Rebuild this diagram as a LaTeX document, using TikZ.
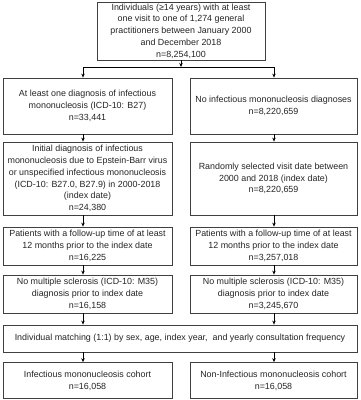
\documentclass[tikz,border=0pt]{standalone}
\usepackage{fontspec}
\setmainfont{Liberation Sans}
\usetikzlibrary{arrows.meta}
\begin{document}
\begin{tikzpicture}[x=1pt,y=-1pt,
  box/.style={draw=black!75,line width=0.8pt,rectangle,inner sep=0pt,align=center,text=black!85,font=\fontsize{8.9}{11.7}\selectfont},
  arr/.style={-{Stealth[length=4pt,width=3.5pt]},line width=0.7pt,black},
  ln/.style={line width=0.7pt,black}]
\useasboundingbox[fill=white] (0,0) rectangle (360,400);
\coordinate (lx) at (83,0);
\coordinate (rx) at (274,0);
\coordinate (sp) at (0,67);
\node[box,minimum width=168pt,minimum height=58pt] (top) at (181,31) {Individuals (≥14 years) with at least\\one visit to one of 1,274 general\\practitioners between January 2000\\and December 2018\\n=8,254,100};
\node[box,minimum width=169pt,minimum height=56pt] (L2) at (87.5,106) {At least one diagnosis of infectious\\mononucleosis (ICD-10: B27)\\n=33,441};
\node[box,minimum width=167pt,minimum height=56pt] (R2) at (273.5,106) {No infectious mononucleosis diagnoses\\n=8,220,659};
\node[box,minimum width=169pt,minimum height=73pt] (L3) at (87.5,178.5) {Initial diagnosis of infectious\\mononucleosis due to Epstein-Barr virus\\or unspecified infectious mononucleosis\\(ICD-10: B27.0, B27.9) in 2000-2018\\(index date)\\n=24,380};
\node[box,minimum width=167pt,minimum height=73pt] (R3) at (273.5,178.5) {Randomly selected visit date between\\2000 and 2018 (index date)\\n=8,220,659};
\node[box,minimum width=169pt,minimum height=38pt] (L4) at (87.5,246) {Patients with a follow-up time of at least\\12 months prior to the index date\\n=16,225};
\node[box,minimum width=167pt,minimum height=38pt] (R4) at (273.5,246) {Patients with a follow-up time of at least\\12 months prior to the index date\\n=3,257,018};
\node[box,minimum width=169pt,minimum height=38pt] (L5) at (87.5,294) {No multiple sclerosis (ICD-10: M35)\\diagnosis prior to index date\\n=16,158};
\node[box,minimum width=167pt,minimum height=38pt] (R5) at (273.5,294) {No multiple sclerosis (ICD-10: M35)\\diagnosis prior to index date\\n=3,245,670};
\node[box,minimum width=354pt,minimum height=27pt] (M) at (180,338.5) {Individual matching (1:1) by sex, age, index year,\ \ and yearly consultation frequency};
\node[box,minimum width=169pt,minimum height=36pt] (L7) at (87.5,380.5) {Infectious mononucleosis cohort\\n=16,058};
\node[box,minimum width=167pt,minimum height=36pt] (R7) at (273.5,380.5) {Non-Infectious mononucleosis cohort\\n=16,058};
% connectors
\draw[arr] (top.south) -- (top.south |- sp);
\draw[ln] (lx |- sp) -- (rx |- sp);
\draw[arr] (lx |- sp) -- (L2.north -| lx);
\draw[arr] (rx |- sp) -- (R2.north -| rx);
\draw[arr] (L2.south -| lx) -- (L3.north -| lx);
\draw[arr] (R2.south -| rx) -- (R3.north -| rx);
\draw[arr] (L3.south -| lx) -- (L4.north -| lx);
\draw[arr] (R3.south -| rx) -- (R4.north -| rx);
\draw[arr] (L4.south -| lx) -- (L5.north -| lx);
\draw[arr] (R4.south -| rx) -- (R5.north -| rx);
\draw[arr] (L5.south -| lx) -- (M.north -| lx);
\draw[arr] (R5.south -| rx) -- (M.north -| rx);
\draw[arr] (M.south -| lx) -- (L7.north -| lx);
\draw[arr] (M.south -| rx) -- (R7.north -| rx);
\end{tikzpicture}
\end{document}
